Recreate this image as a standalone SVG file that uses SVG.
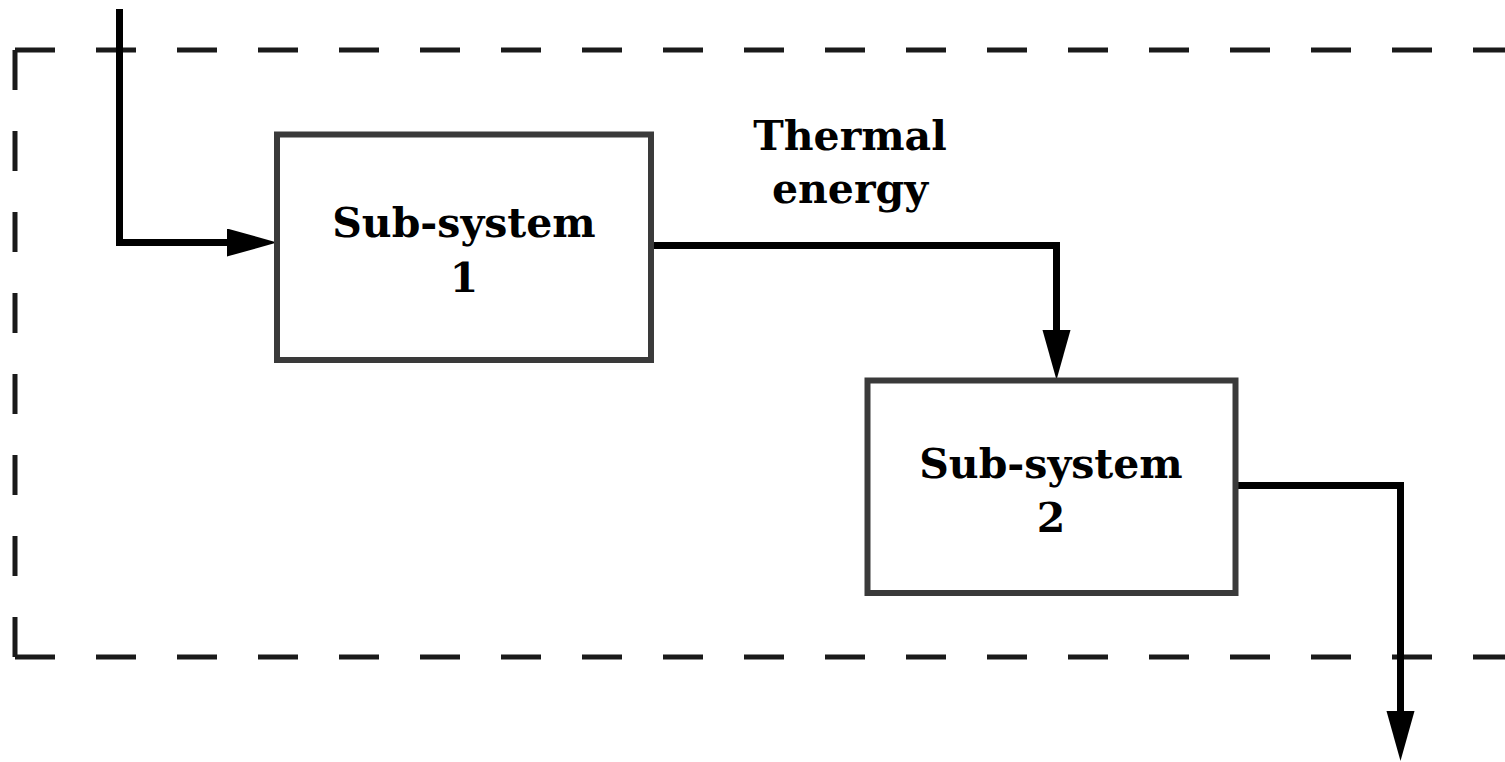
<svg xmlns="http://www.w3.org/2000/svg" width="1505" height="762" viewBox="0 0 1505 762">
  <style>
    .boundary { fill: none; stroke: #1a1a1a; stroke-width: 5; stroke-dasharray: 40 41; }
    .box { fill: #ffffff; stroke: #3a3a3a; stroke-width: 6; }
    .flow { fill: none; stroke: #000000; stroke-width: 7; stroke-linejoin: miter; }
    .label { font-family: "DejaVu Serif", "Liberation Serif", serif; font-weight: bold; font-size: 41px; fill: #000000; text-anchor: middle; }
  </style>
  <defs>
    <marker id="arrow" markerUnits="userSpaceOnUse" markerWidth="52" markerHeight="30" refX="0" refY="14" orient="auto">
      <path d="M0,0 L50,14 L0,28 Z" fill="#000000"/>
    </marker>
  </defs>

  <rect width="1505" height="762" fill="#ffffff"/>

  <!-- system boundary (open on the right) -->
  <g id="boundary">
    <path class="boundary" d="M15,50 H1505"/>
    <path class="boundary" d="M15,657 H1505"/>
    <path class="boundary" d="M15,50 V657"/>
  </g>

  <!-- connectors -->
  <g id="connectors">
    <path class="flow" d="M119.5,9 V242.5 H227" marker-end="url(#arrow)"/>
    <path class="flow" d="M651,245.5 H1056.5 V330" marker-end="url(#arrow)"/>
    <path class="flow" d="M1235,485.5 H1400.5 V711" marker-end="url(#arrow)"/>
  </g>

  <g id="thermal-energy-label">
    <text class="label" x="850" y="150">Thermal</text>
    <text class="label" x="850" y="203">energy</text>
  </g>

  <g id="subsystem-1">
    <rect class="box" x="277" y="134.5" width="374" height="225.5"/>
    <text class="label" x="464" y="237">Sub-system</text>
    <text class="label" x="464" y="292">1</text>
  </g>

  <g id="subsystem-2">
    <rect class="box" x="867.5" y="380.5" width="368" height="212.5"/>
    <text class="label" x="1051" y="478">Sub-system</text>
    <text class="label" x="1051" y="532">2</text>
  </g>
</svg>
